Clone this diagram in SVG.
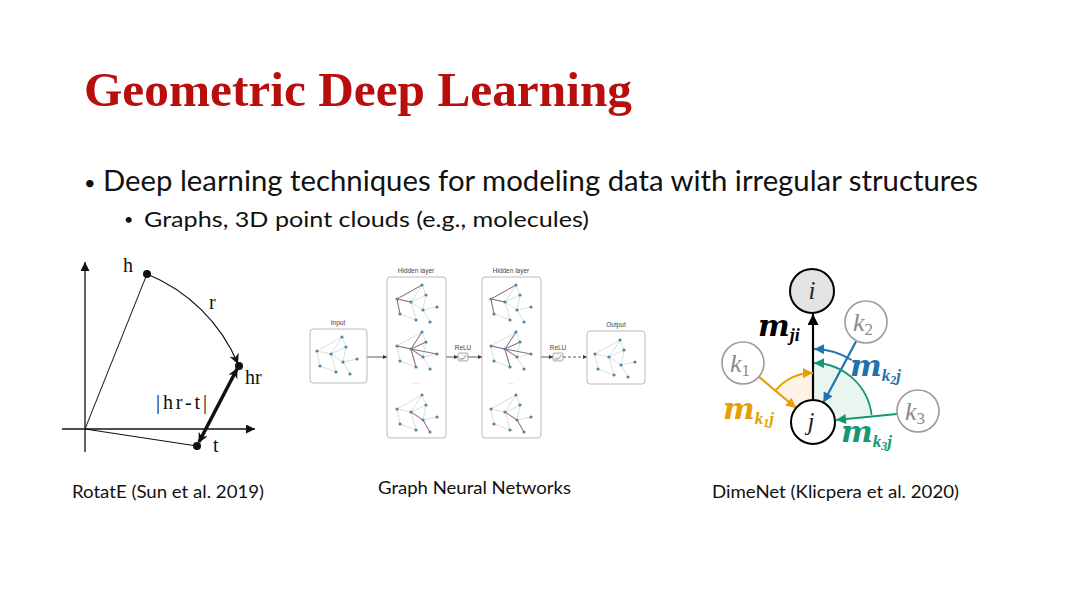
<svg xmlns="http://www.w3.org/2000/svg" xmlns:xlink="http://www.w3.org/1999/xlink" width="1080" height="608" viewBox="0 0 1080 608">
<style>
.title{font-family:"Liberation Serif","Times New Roman",serif;font-weight:bold;font-size:49px;fill:#B80E0E}
.body{font-family:Lato,"Open Sans",sans-serif;fill:#111}
.cap{font-family:Lato,"Open Sans",sans-serif;font-size:18px;fill:#111}
.rt{font-family:"Liberation Serif","Times New Roman",serif;font-size:20px;fill:#111}
.gl{font-family:"Liberation Sans",Arial,sans-serif;font-size:6.5px;fill:#444;text-anchor:middle}
.box{fill:#fff;stroke:#aaa;stroke-width:0.8}
.e{stroke:#c9d3cf;stroke-width:0.7}
.ed{stroke:#7d5a70;stroke-width:0.9}
.nd{fill:#4f88a6}
.ga{stroke:#333;stroke-width:0.8;fill:none}
.mth{font-family:"Liberation Serif","Times New Roman",serif;font-style:italic}
.mb{font-family:"DejaVu Serif",serif;font-style:italic;font-weight:bold}
.sb{font-family:"Liberation Serif","Times New Roman",serif;font-style:italic;font-weight:bold}
.kc{fill:#fff;stroke:#9a9a9a;stroke-width:1.6}
</style>
<defs>
<marker id="ax" viewBox="0 0 10 10" refX="10" refY="5" markerWidth="11" markerHeight="9" orient="auto" markerUnits="userSpaceOnUse"><path d="M0,0 L10,5 L0,10 z" fill="#111"/></marker>
<marker id="arcH" viewBox="0 0 10 10" refX="10" refY="5" markerWidth="11" markerHeight="10" orient="auto" markerUnits="userSpaceOnUse"><path d="M0,0 L10,5 L0,10 L3,5 z" fill="#111"/></marker>
<marker id="thk" viewBox="0 0 10 10" refX="9" refY="5" markerWidth="11" markerHeight="10" orient="auto-start-reverse" markerUnits="userSpaceOnUse"><path d="M0,0 L10,5 L0,10 L3,5 z" fill="#111"/></marker>
<marker id="sm" viewBox="0 0 10 10" refX="10" refY="5" markerWidth="4" markerHeight="4" orient="auto" markerUnits="userSpaceOnUse"><path d="M0,0 L10,5 L0,10 z" fill="#333"/></marker>
<marker id="mK" viewBox="0 0 10 10" refX="10" refY="5" markerWidth="12" markerHeight="11" orient="auto" markerUnits="userSpaceOnUse"><path d="M0,0 L10,5 L0,10 z" fill="#000"/></marker>
<marker id="mO" viewBox="0 0 10 10" refX="10" refY="5" markerWidth="12" markerHeight="10" orient="auto" markerUnits="userSpaceOnUse"><path d="M0,0 L10,5 L0,10 z" fill="#E69F00"/></marker>
<marker id="mB" viewBox="0 0 10 10" refX="10" refY="5" markerWidth="12" markerHeight="10" orient="auto" markerUnits="userSpaceOnUse"><path d="M0,0 L10,5 L0,10 z" fill="#1f72b0"/></marker>
<marker id="mG" viewBox="0 0 10 10" refX="10" refY="5" markerWidth="12" markerHeight="10" orient="auto" markerUnits="userSpaceOnUse"><path d="M0,0 L10,5 L0,10 z" fill="#139872"/></marker>
<g id="gr">
<line class="e" x1="27" y1="2" x2="2" y2="16"/>
<line class="e" x1="27" y1="2" x2="16" y2="19"/>
<line class="e" x1="27" y1="2" x2="31" y2="12"/>
<line class="e" x1="2" y1="16" x2="16" y2="19"/>
<line class="e" x1="2" y1="16" x2="5" y2="31"/>
<line class="e" x1="16" y1="19" x2="28" y2="27"/>
<line class="e" x1="16" y1="19" x2="21" y2="37"/>
<line class="e" x1="31" y1="12" x2="28" y2="27"/>
<line class="e" x1="31" y1="12" x2="16" y2="19"/>
<line class="e" x1="28" y1="27" x2="42" y2="24"/>
<line class="e" x1="28" y1="27" x2="35" y2="39"/>
<line class="e" x1="5" y1="31" x2="21" y2="37"/>
</g>
<g id="gn">
<circle class="nd" cx="27" cy="2" r="1.6"/>
<circle class="nd" cx="2" cy="16" r="1.6"/>
<circle class="nd" cx="16" cy="19" r="1.6"/>
<circle class="nd" cx="31" cy="12" r="1.6"/>
<circle class="nd" cx="28" cy="27" r="1.6"/>
<circle class="nd" cx="42" cy="24" r="1.6"/>
<circle class="nd" cx="5" cy="31" r="1.6"/>
<circle class="nd" cx="21" cy="37" r="1.6"/>
<circle class="nd" cx="35" cy="39" r="1.6"/>
</g>
<g id="gTop"><use xlink:href="#gr"/><line class="ed" x1="2" y1="16" x2="27" y2="2"/><line class="ed" x1="2" y1="16" x2="16" y2="19"/><line class="ed" x1="2" y1="16" x2="5" y2="31"/><use xlink:href="#gn"/></g>
<g id="gMid"><use xlink:href="#gr"/><line class="ed" x1="16" y1="19" x2="27" y2="2"/><line class="ed" x1="16" y1="19" x2="2" y2="16"/><line class="ed" x1="16" y1="19" x2="31" y2="12"/><line class="ed" x1="16" y1="19" x2="28" y2="27"/><line class="ed" x1="16" y1="19" x2="21" y2="37"/><line class="ed" x1="16" y1="19" x2="42" y2="24"/><use xlink:href="#gn"/></g>
<g id="gBot"><use xlink:href="#gr"/><line class="ed" x1="28" y1="27" x2="35" y2="39"/><line class="ed" x1="16" y1="19" x2="28" y2="27"/><use xlink:href="#gn"/></g>
<g id="gPlain"><use xlink:href="#gr"/><use xlink:href="#gn"/></g>
</defs>

<rect width="1080" height="608" fill="#fff"/>

<g id="text-title">
<text class="title" x="84" y="106" textLength="548" lengthAdjust="spacingAndGlyphs">Geometric Deep Learning</text>
</g>
<g id="text-bullets">
<text class="body" x="84" y="190" font-size="20">•</text>
<text class="body" x="103" y="191" font-size="28" textLength="875" lengthAdjust="spacingAndGlyphs">Deep learning techniques for modeling data with irregular structures</text>
<text class="body" x="124" y="225" font-size="16">•</text>
<text class="body" x="144" y="227" font-size="22" textLength="445" lengthAdjust="spacingAndGlyphs">Graphs, 3D point clouds (e.g., molecules)</text>
</g>

<!-- RotatE figure -->
<g id="rotate">
<g id="axes">
<line x1="85" y1="452" x2="85" y2="262" stroke="#111" stroke-width="1.3" marker-end="url(#ax)"/>
<line x1="62" y1="429" x2="255" y2="429" stroke="#111" stroke-width="1.3" marker-end="url(#ax)"/>
</g>
<g id="rot-connectors">
<line x1="85" y1="429" x2="147" y2="274" stroke="#111" stroke-width="1"/>
<line x1="85" y1="429" x2="197" y2="446" stroke="#111" stroke-width="1.2"/>
<path d="M147,274 A167,167 0 0,1 238,364" fill="none" stroke="#111" stroke-width="1.2" marker-end="url(#arcH)"/>
<line x1="199" y1="442" x2="237" y2="369" stroke="#111" stroke-width="3.5" marker-start="url(#thk)" marker-end="url(#thk)"/>
</g>
<g id="node-h"><circle cx="147" cy="274" r="4" fill="#111"/><text class="rt" x="123" y="272">h</text></g>
<g id="node-hr"><circle cx="239" cy="366" r="4" fill="#111"/><text class="rt" x="245" y="384">hr</text></g>
<g id="node-t"><circle cx="197" cy="446" r="4" fill="#111"/><text class="rt" x="213" y="452">t</text></g>
<text class="rt" x="209" y="309">r</text>
<text class="rt" x="156" y="409" font-size="21" textLength="51" lengthAdjust="spacing">|hr-t|</text>
</g>

<!-- GNN figure -->
<g id="gnn">
<g id="gnn-connectors">
<line class="ga" x1="367" y1="357" x2="387" y2="357" marker-end="url(#sm)"/>
<line class="ga" x1="446" y1="357" x2="458" y2="357" marker-end="url(#sm)"/>
<line class="ga" x1="468" y1="357" x2="482" y2="357" marker-end="url(#sm)"/>
<line class="ga" x1="541" y1="357" x2="553" y2="357" marker-end="url(#sm)"/>
<line class="ga" x1="563" y1="357" x2="587" y2="357" stroke-dasharray="3,2" marker-end="url(#sm)"/>
</g>
<g id="gnn-input">
<text class="gl" x="338" y="325">Input</text>
<rect class="box" x="310" y="329" width="57" height="54" rx="3"/>
<use xlink:href="#gPlain" transform="translate(315,335)"/>
</g>
<g id="gnn-hidden1">
<text class="gl" x="416" y="273">Hidden layer</text>
<rect class="box" x="387" y="277" width="59" height="161" rx="3"/>
<use xlink:href="#gTop" transform="translate(395,283)"/>
<use xlink:href="#gMid" transform="translate(395,330)"/>
<text class="gl" x="416" y="384" style="fill:#bbb">...</text>
<use xlink:href="#gBot" transform="translate(395,393)"/>
</g>
<g id="gnn-relu1">
<text class="gl" x="463" y="350">ReLU</text>
<rect x="458" y="353" width="10" height="8" rx="1.5" fill="#f5f5f5" stroke="#777" stroke-width="0.6"/>
<polyline points="459.5,359 463,359 466.5,355" fill="none" stroke="#555" stroke-width="0.6"/>
</g>
<g id="gnn-hidden2">
<text class="gl" x="511" y="273">Hidden layer</text>
<rect class="box" x="482" y="277" width="59" height="161" rx="3"/>
<use xlink:href="#gTop" transform="translate(489,283)"/>
<use xlink:href="#gMid" transform="translate(489,330)"/>
<text class="gl" x="511" y="384" style="fill:#bbb">...</text>
<use xlink:href="#gBot" transform="translate(489,393)"/>
</g>
<g id="gnn-relu2">
<text class="gl" x="558" y="350">ReLU</text>
<rect x="553" y="353" width="10" height="8" rx="1.5" fill="#f5f5f5" stroke="#777" stroke-width="0.6"/>
<polyline points="554.5,359 558,359 561.5,355" fill="none" stroke="#555" stroke-width="0.6"/>
</g>
<g id="gnn-output">
<text class="gl" x="616" y="327">Output</text>
<rect class="box" x="587" y="331" width="58" height="53" rx="3"/>
<use xlink:href="#gPlain" transform="translate(593,338)"/>
</g>
</g>

<!-- DimeNet figure -->
<g id="dimenet">
<g id="wedges">
<path d="M813,422 L813,373 A49,49 0 0,0 775.5,390.5 Z" fill="#fdf2e3"/>
<path d="M813,422 L813,363 A59,59 0 0,1 871.6,415 Z" fill="#e9f6f0"/>
</g>
<g id="dime-connectors">
<line x1="813" y1="400" x2="813" y2="314" stroke="#000" stroke-width="2.2" marker-end="url(#mK)"/>
<line x1="856" y1="341.5" x2="823.4" y2="402.6" stroke="#1f72b0" stroke-width="2.2" marker-end="url(#mB)"/>
<line x1="897" y1="414" x2="836" y2="420" stroke="#139872" stroke-width="2.2" marker-end="url(#mG)"/>
<line x1="758" y1="376" x2="796" y2="408" stroke="#E69F00" stroke-width="2.2" marker-end="url(#mO)"/>
<path d="M775.5,390.5 A49,49 0 0,1 813,373" fill="none" stroke="#E69F00" stroke-width="1.8" marker-end="url(#mO)"/>
<path d="M851.6,360 A73,73 0 0,0 814,349" fill="none" stroke="#1f72b0" stroke-width="1.8" marker-end="url(#mB)"/>
<path d="M871.6,415 A59,59 0 0,0 814,363" fill="none" stroke="#139872" stroke-width="1.8" marker-end="url(#mG)"/>
</g>
<g id="node-i"><circle cx="812" cy="291" r="22" fill="#e3e3e3" stroke="#000" stroke-width="2"/><text class="mth" x="812" y="299" font-size="25" text-anchor="middle" fill="#222">i</text></g>
<g id="node-j"><circle cx="813" cy="422" r="22" fill="#fff" stroke="#000" stroke-width="2"/><text class="mth" x="811" y="430" font-size="25" text-anchor="middle" fill="#222">j</text></g>
<g id="node-k1"><circle class="kc" cx="743" cy="363" r="21"/><text class="mth" x="730" y="372" font-size="26" fill="#8a8a8a">k<tspan font-size="17" dy="4" font-style="normal">1</tspan></text></g>
<g id="node-k2"><circle class="kc" cx="866" cy="322" r="21"/><text class="mth" x="853" y="331" font-size="26" fill="#8a8a8a">k<tspan font-size="17" dy="4" font-style="normal">2</tspan></text></g>
<g id="node-k3"><circle class="kc" cx="918" cy="411" r="21"/><text class="mth" x="905" y="420" font-size="26" fill="#8a8a8a">k<tspan font-size="17" dy="4" font-style="normal">3</tspan></text></g>
<text x="758" y="336" fill="#000"><tspan class="mb" font-size="30">m</tspan><tspan class="sb" font-size="18" dy="5">ji</tspan></text>
<text x="723" y="419" fill="#E69F00"><tspan class="mb" font-size="30">m</tspan><tspan class="sb" font-size="17" dy="5">k</tspan><tspan class="sb" font-size="12" dy="3">1</tspan><tspan class="sb" font-size="17" dy="-3">j</tspan></text>
<text x="850" y="376" fill="#1f72b0"><tspan class="mb" font-size="30">m</tspan><tspan class="sb" font-size="17" dy="5">k</tspan><tspan class="sb" font-size="12" dy="3">2</tspan><tspan class="sb" font-size="17" dy="-3">j</tspan></text>
<text x="841" y="442" fill="#139872"><tspan class="mb" font-size="30">m</tspan><tspan class="sb" font-size="17" dy="5">k</tspan><tspan class="sb" font-size="12" dy="3">3</tspan><tspan class="sb" font-size="17" dy="-3">j</tspan></text>
</g>

<g id="captions">
<text class="cap" x="72" y="498" textLength="192" lengthAdjust="spacingAndGlyphs">RotatE (Sun et al. 2019)</text>
<text class="cap" x="378" y="494" textLength="193" lengthAdjust="spacingAndGlyphs">Graph Neural Networks</text>
<text class="cap" x="712" y="498" textLength="247" lengthAdjust="spacingAndGlyphs">DimeNet (Klicpera et al. 2020)</text>
</g>
</svg>
